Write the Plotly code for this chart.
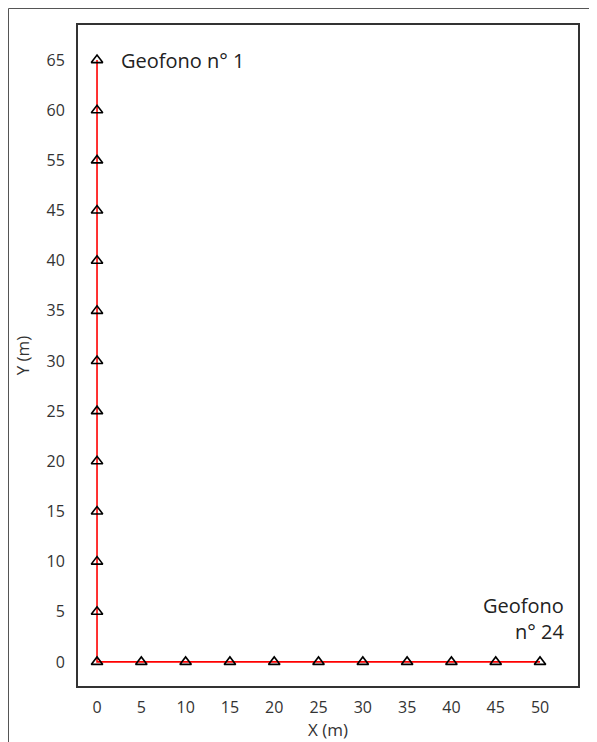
import plotly.graph_objects as go

# Data
y_labels = ["0", "5", "10", "15", "20", "25", "30", "35", "40", "45", "55", "60", "65"]
x_ticks = [0, 5, 10, 15, 20, 25, 30, 35, 40, 45, 50]

# Geophone positions: vertical leg (top to bottom), then horizontal leg
vert_y = list(reversed(y_labels))
vert_x = [0] * len(vert_y)
horiz_x = [5, 10, 15, 20, 25, 30, 35, 40, 45, 50]
horiz_y = ["0"] * len(horiz_x)

xs = vert_x + horiz_x
ys = vert_y + horiz_y

fig = go.Figure()
fig.add_trace(go.Scatter(
    x=xs, y=ys, mode="lines+markers",
    line=dict(color="#ff0000", width=1.6),
    marker=dict(symbol="triangle-up-open", size=10, color="black",
                line=dict(color="black", width=1.6)),
    showlegend=False, cliponaxis=False,
))

font_family = "Open Sans, Noto Sans, DejaVu Sans, sans-serif"

fig.add_annotation(x=0, y=y_labels.index("65"), text="Geofono n° 1", showarrow=False,
                   xanchor="left", xshift=22, yshift=0,
                   font=dict(size=20, color="#222222", family=font_family))
fig.add_annotation(x=50, y=y_labels.index("0"), text="Geofono<br>n° 24", showarrow=False,
                   xanchor="right", yanchor="bottom", align="right", xshift=26, yshift=15,
                   font=dict(size=20, color="#222222", family=font_family))

W, H = 589, 734
L, R, T, B = 69, 18, 16, 55
pw, ph = W - L - R, H - T - B

fig.update_layout(
    width=W, height=H,
    margin=dict(l=L, r=R, t=T, b=B),
    paper_bgcolor="white", plot_bgcolor="white",
    font=dict(family=font_family, size=16, color="#333333"),
    xaxis=dict(
        range=[-2.26, 54.4], tickmode="array", tickvals=x_ticks,
        ticktext=[str(v) for v in x_ticks],
        showgrid=False, zeroline=False, showline=False,
        ticks="outside", ticklen=6, tickcolor="rgba(0,0,0,0)",
        title=dict(text="X (m)", standoff=1, font=dict(size=17)),
    ),
    yaxis=dict(
        type="category", categoryorder="array", categoryarray=y_labels,
        range=[-0.5, 12.72],
        showgrid=False, zeroline=False, showline=False,
        ticks="outside", ticklen=8, tickcolor="rgba(0,0,0,0)",
        title=dict(text="Y (m)", standoff=12, font=dict(size=17)),
    ),
    shapes=[
        dict(type="rect", xref="paper", yref="paper", x0=0, x1=1, y0=0, y1=1,
             line=dict(color="#333333", width=2)),
        dict(type="rect", xref="paper", yref="paper",
             x0=(0.5 - L) / pw, x1=(W + 20 - L) / pw,
             y0=-0.2, y1=(ph + T - 0.5) / ph,
             line=dict(color="#555555", width=1)),
    ],
)

fig.write_html("out.html")
